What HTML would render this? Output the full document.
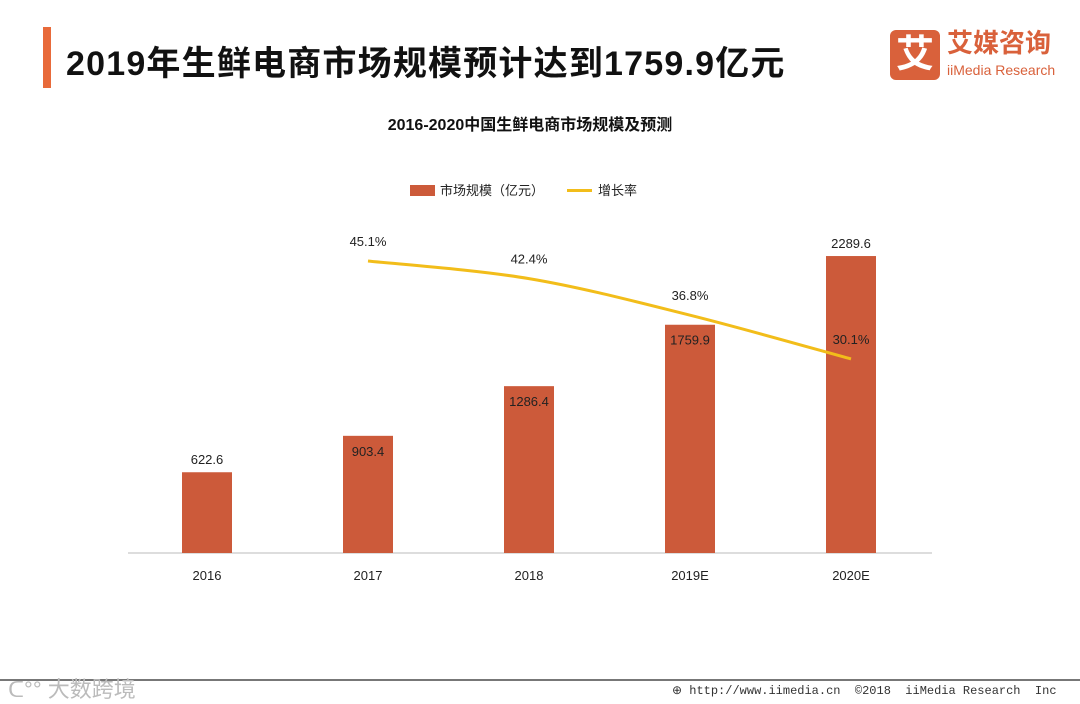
<!DOCTYPE html>
<html><head><meta charset="utf-8"><style>
body{margin:0;width:1080px;height:703px;background:#fff;overflow:hidden;font-family:"Liberation Sans","Noto Sans CJK SC",sans-serif;position:relative}
.a{position:absolute}
</style></head><body>
<div class="a" style="left:43px;top:27px;width:8px;height:61px;background:#e86a3a"></div>
<div class="a" style="left:66px;top:36px;font-size:34px;font-weight:bold;color:#111;letter-spacing:1.2px;white-space:nowrap">2019年生鲜电商市场规模预计达到1759.9亿元</div>
<div class="a" style="left:890px;top:30px;width:50px;height:50px;background:#d9613b;border-radius:6px;color:#fff;font-size:38px;font-weight:bold;text-align:center;line-height:50px">艾</div>
<div class="a" style="left:947px;top:28px;color:#d9613b;font-size:26px;font-weight:bold;line-height:30px">艾媒咨询</div>
<div class="a" style="left:947px;top:62px;color:#d9613b;font-size:14px">iiMedia Research</div>
<div class="a" style="left:0;top:679px;width:1080px;height:2px;background:#777"></div>
<div class="a" style="left:8px;top:672px;color:#bbb;font-size:22px">ᑕ°° 大数跨境</div>
<div class="a" style="left:672px;top:683px;color:#333;font-size:12px;font-family:'Liberation Mono',monospace;white-space:nowrap">⊕ http://www.iimedia.cn &nbsp;©2018 &nbsp;iiMedia Research &nbsp;Inc</div>
<svg class="a" style="left:0;top:0" width="1080" height="703" id="chart">
<text x="530" y="130" text-anchor="middle" font-size="16" font-weight="bold" fill="#111">2016-2020中国生鲜电商市场规模及预测</text>
<rect x="410" y="185" width="25" height="11" fill="#cc5a3a"/>
<text x="440" y="195" font-size="13" fill="#222">市场规模（亿元）</text>
<rect x="567" y="189" width="25" height="3" fill="#f2bd1a"/>
<text x="598" y="195" font-size="13" fill="#222">增长率</text>
<line x1="128" y1="553" x2="932" y2="553" stroke="#bbb"/>
<g id="g"></g>
</svg>
<script>
const categories=["2016","2017","2018","2019E","2020E"];
const sizes=[622.6,903.4,1286.4,1759.9,2289.6];
const sizeLabels=["622.6","903.4","1286.4","1759.9","2289.6"];
const rates=[null,45.1,42.4,36.8,30.1];
const rateLabels=["","45.1%","42.4%","36.8%","30.1%"];
const NS="http://www.w3.org/2000/svg",g=document.getElementById('g');
const xs=i=>207+i*161, ys=v=>553-v*0.1297, yr=v=>261+(45.1-v)*6.53;
function mk(t,a){const e=document.createElementNS(NS,t);for(const k in a)e.setAttribute(k,a[k]);g.appendChild(e);return e;}
categories.forEach((c,i)=>{
  const top=ys(sizes[i]);
  const r=mk('rect',{x:xs(i)-25,y:top,width:50,height:553-top,fill:'#cc5a3a'});
  
  
  const inside=!(i===0||i===categories.length-1);
  const t=mk('text',{x:xs(i),y:inside?top+20:top-8,'text-anchor':'middle','font-size':13,fill:'#222'});
  t.textContent=sizeLabels[i];
  
  
  const l=mk('text',{x:xs(i),y:580,'text-anchor':'middle','font-size':13,fill:'#222'});
  l.textContent=c;
  
  
});
const pts=[];rates.forEach((v,i)=>{if(v!=null)pts.push([xs(i),yr(v),i]);});
let d='M'+pts[0][0]+','+pts[0][1];
for(let k=0;k<pts.length-1;k++){const p0=pts[k-1]||pts[k],p1=pts[k],p2=pts[k+1],p3=pts[k+2]||p2;
 d+=` C${p1[0]+(p2[0]-p0[0])/6},${p1[1]+(p2[1]-p0[1])/6} ${p2[0]-(p3[0]-p1[0])/6},${p2[1]-(p3[1]-p1[1])/6} ${p2[0]},${p2[1]}`;}
const ln=mk('path',{d:d,fill:'none',stroke:'#f2bd1a','stroke-width':3});


pts.forEach(p=>{const t=mk('text',{x:p[0],y:p[1]-15,'text-anchor':'middle','font-size':13,fill:'#222'});
 t.textContent=rateLabels[p[2]];
 
 });
</script>
</body></html>
